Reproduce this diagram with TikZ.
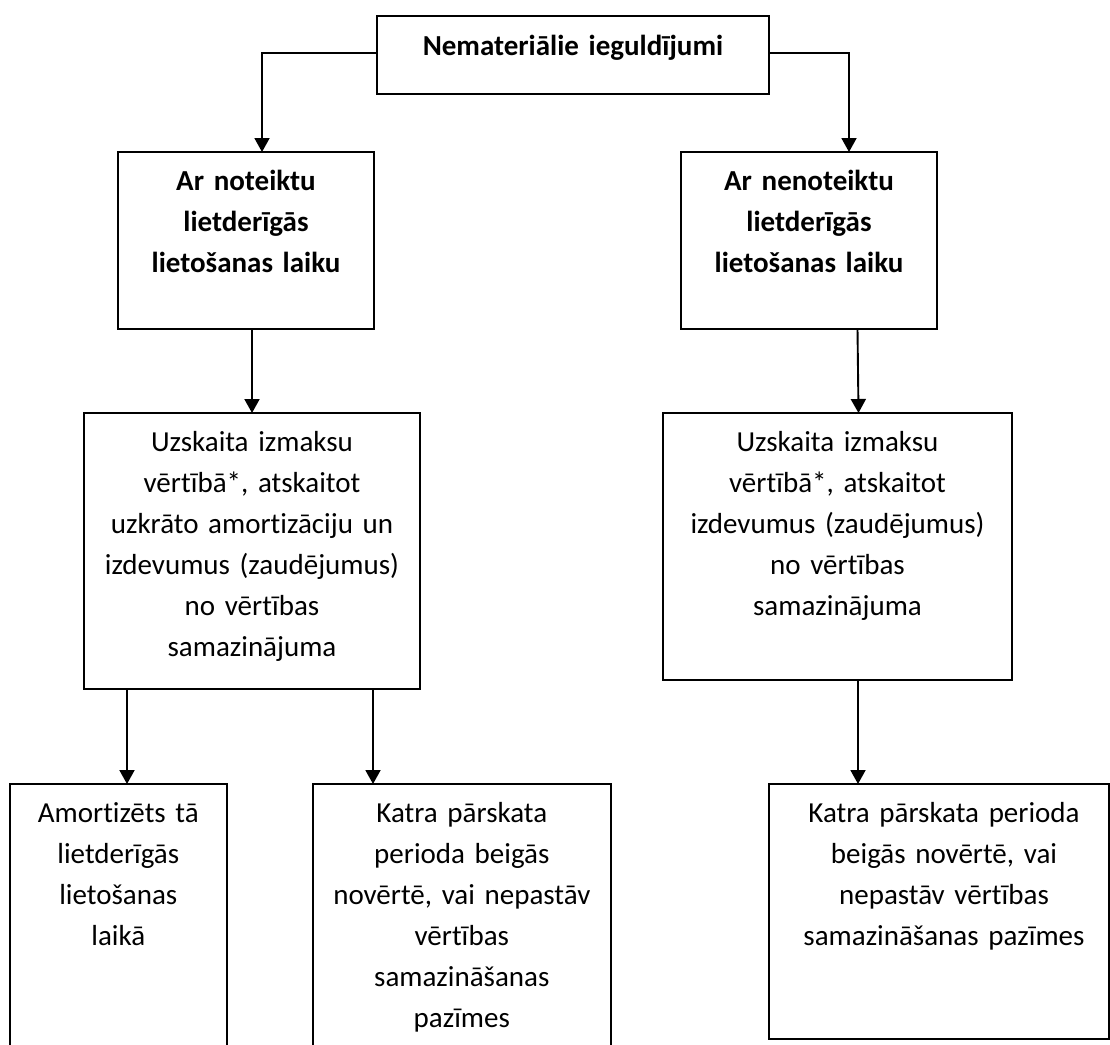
\documentclass[tikz,border=0pt]{standalone}
\usepackage{fontspec}
\setmainfont{Carlito}[Ligatures={NoCommon,NoDiscretionary}]
\usetikzlibrary{arrows.meta}
\begin{document}
\begin{tikzpicture}[x=1pt,y=-1pt,
  box/.style={draw=black, line width=1.8pt, rectangle, inner sep=0pt, outer sep=0pt},
  txt/.style={anchor=base, inner sep=0pt, outer sep=0pt, text width=400pt, align=center,
              font=\fontsize{29}{41}\selectfont},
  boldtxt/.style={txt, font=\bfseries\fontsize{29}{41}\selectfont},
  link/.style={line width=1.9pt, -{Triangle[width=15pt,length=14pt]}}
]
\useasboundingbox (0,0) rectangle (1110,1044);
\fill[white] (0,0) rectangle (1110,1044);
\clip (0,0) rectangle (1110,1044);

% top box
\node[box, minimum width=392pt, minimum height=78pt] (T) at (573,55) {};
\node[boldtxt] (Tt) at (573,55) {Nemateriālie ieguldījumi};

% second row
\node[box, minimum width=256pt, minimum height=177pt] (B1) at (246,240.5) {};
\node[boldtxt] (B1t) at (246,190.7) {Ar noteiktu\\lietderīgās\\lietošanas laiku};
\node[box, minimum width=256pt, minimum height=177pt] (B2) at (809,240.5) {};
\node[boldtxt] (B2t) at (809,190.7) {Ar nenoteiktu\\lietderīgās\\lietošanas laiku};

% third row
\node[box, minimum width=336pt, minimum height=276pt] (B3) at (252,551) {};
\node[txt] (B3t) at (252,451.7) {Uzskaita izmaksu\\vērtībā*, atskaitot\\uzkrāto amortizāciju un\\izdevumus (zaudējumus)\\no vērtības\\samazinājuma};
\node[box, minimum width=349pt, minimum height=267pt] (B4) at (837.5,546.5) {};
\node[txt] (B4t) at (837.5,451.7) {Uzskaita izmaksu\\vērtībā*, atskaitot\\izdevumus (zaudējumus)\\no vērtības\\samazinājuma};

% bottom row
\node[box, minimum width=216.7pt, minimum height=286pt] (B5) at (118.35,927) {};
\node[txt] (B5t) at (118.3,822.7) {Amortizēts tā\\lietderīgās\\lietošanas\\laikā};
\node[box, minimum width=298.3pt, minimum height=286pt] (B6) at (461.85,927) {};
\node[txt] (B6t) at (461.8,822.7) {Katra pārskata\\perioda beigās\\novērtē, vai nepastāv\\vērtības\\samazināšanas\\pazīmes};
\node[box, minimum width=340pt, minimum height=255pt] (B7) at (939,911.5) {};
\node[txt] (B7t) at (944,822.7) {Katra pārskata perioda\\beigās novērtē, vai\\nepastāv vērtības\\samazināšanas pazīmes};

% connectors
\draw[link] ([yshift=2pt]T.west) -| ([xshift=16pt]B1.north);
\draw[link] ([yshift=2pt]T.east) -| ([xshift=40pt]B2.north);
\draw[link] ([xshift=6pt]B1.south) -- (B3.north);
\draw[link] ([xshift=48.5pt]B2.south) -- ([xshift=21pt]B4.north);
\coordinate (p1) at ([xshift=43pt]B3.south west);
\draw[link] (p1) -- (p1 |- B5.north);
\coordinate (p2) at ([xshift=-47pt]B3.south east);
\draw[link] (p2) -- (p2 |- B6.north);
\coordinate (p3) at ([xshift=195pt]B4.south west);
\draw[link] (p3) -- (p3 |- B7.north);
\end{tikzpicture}
\end{document}
